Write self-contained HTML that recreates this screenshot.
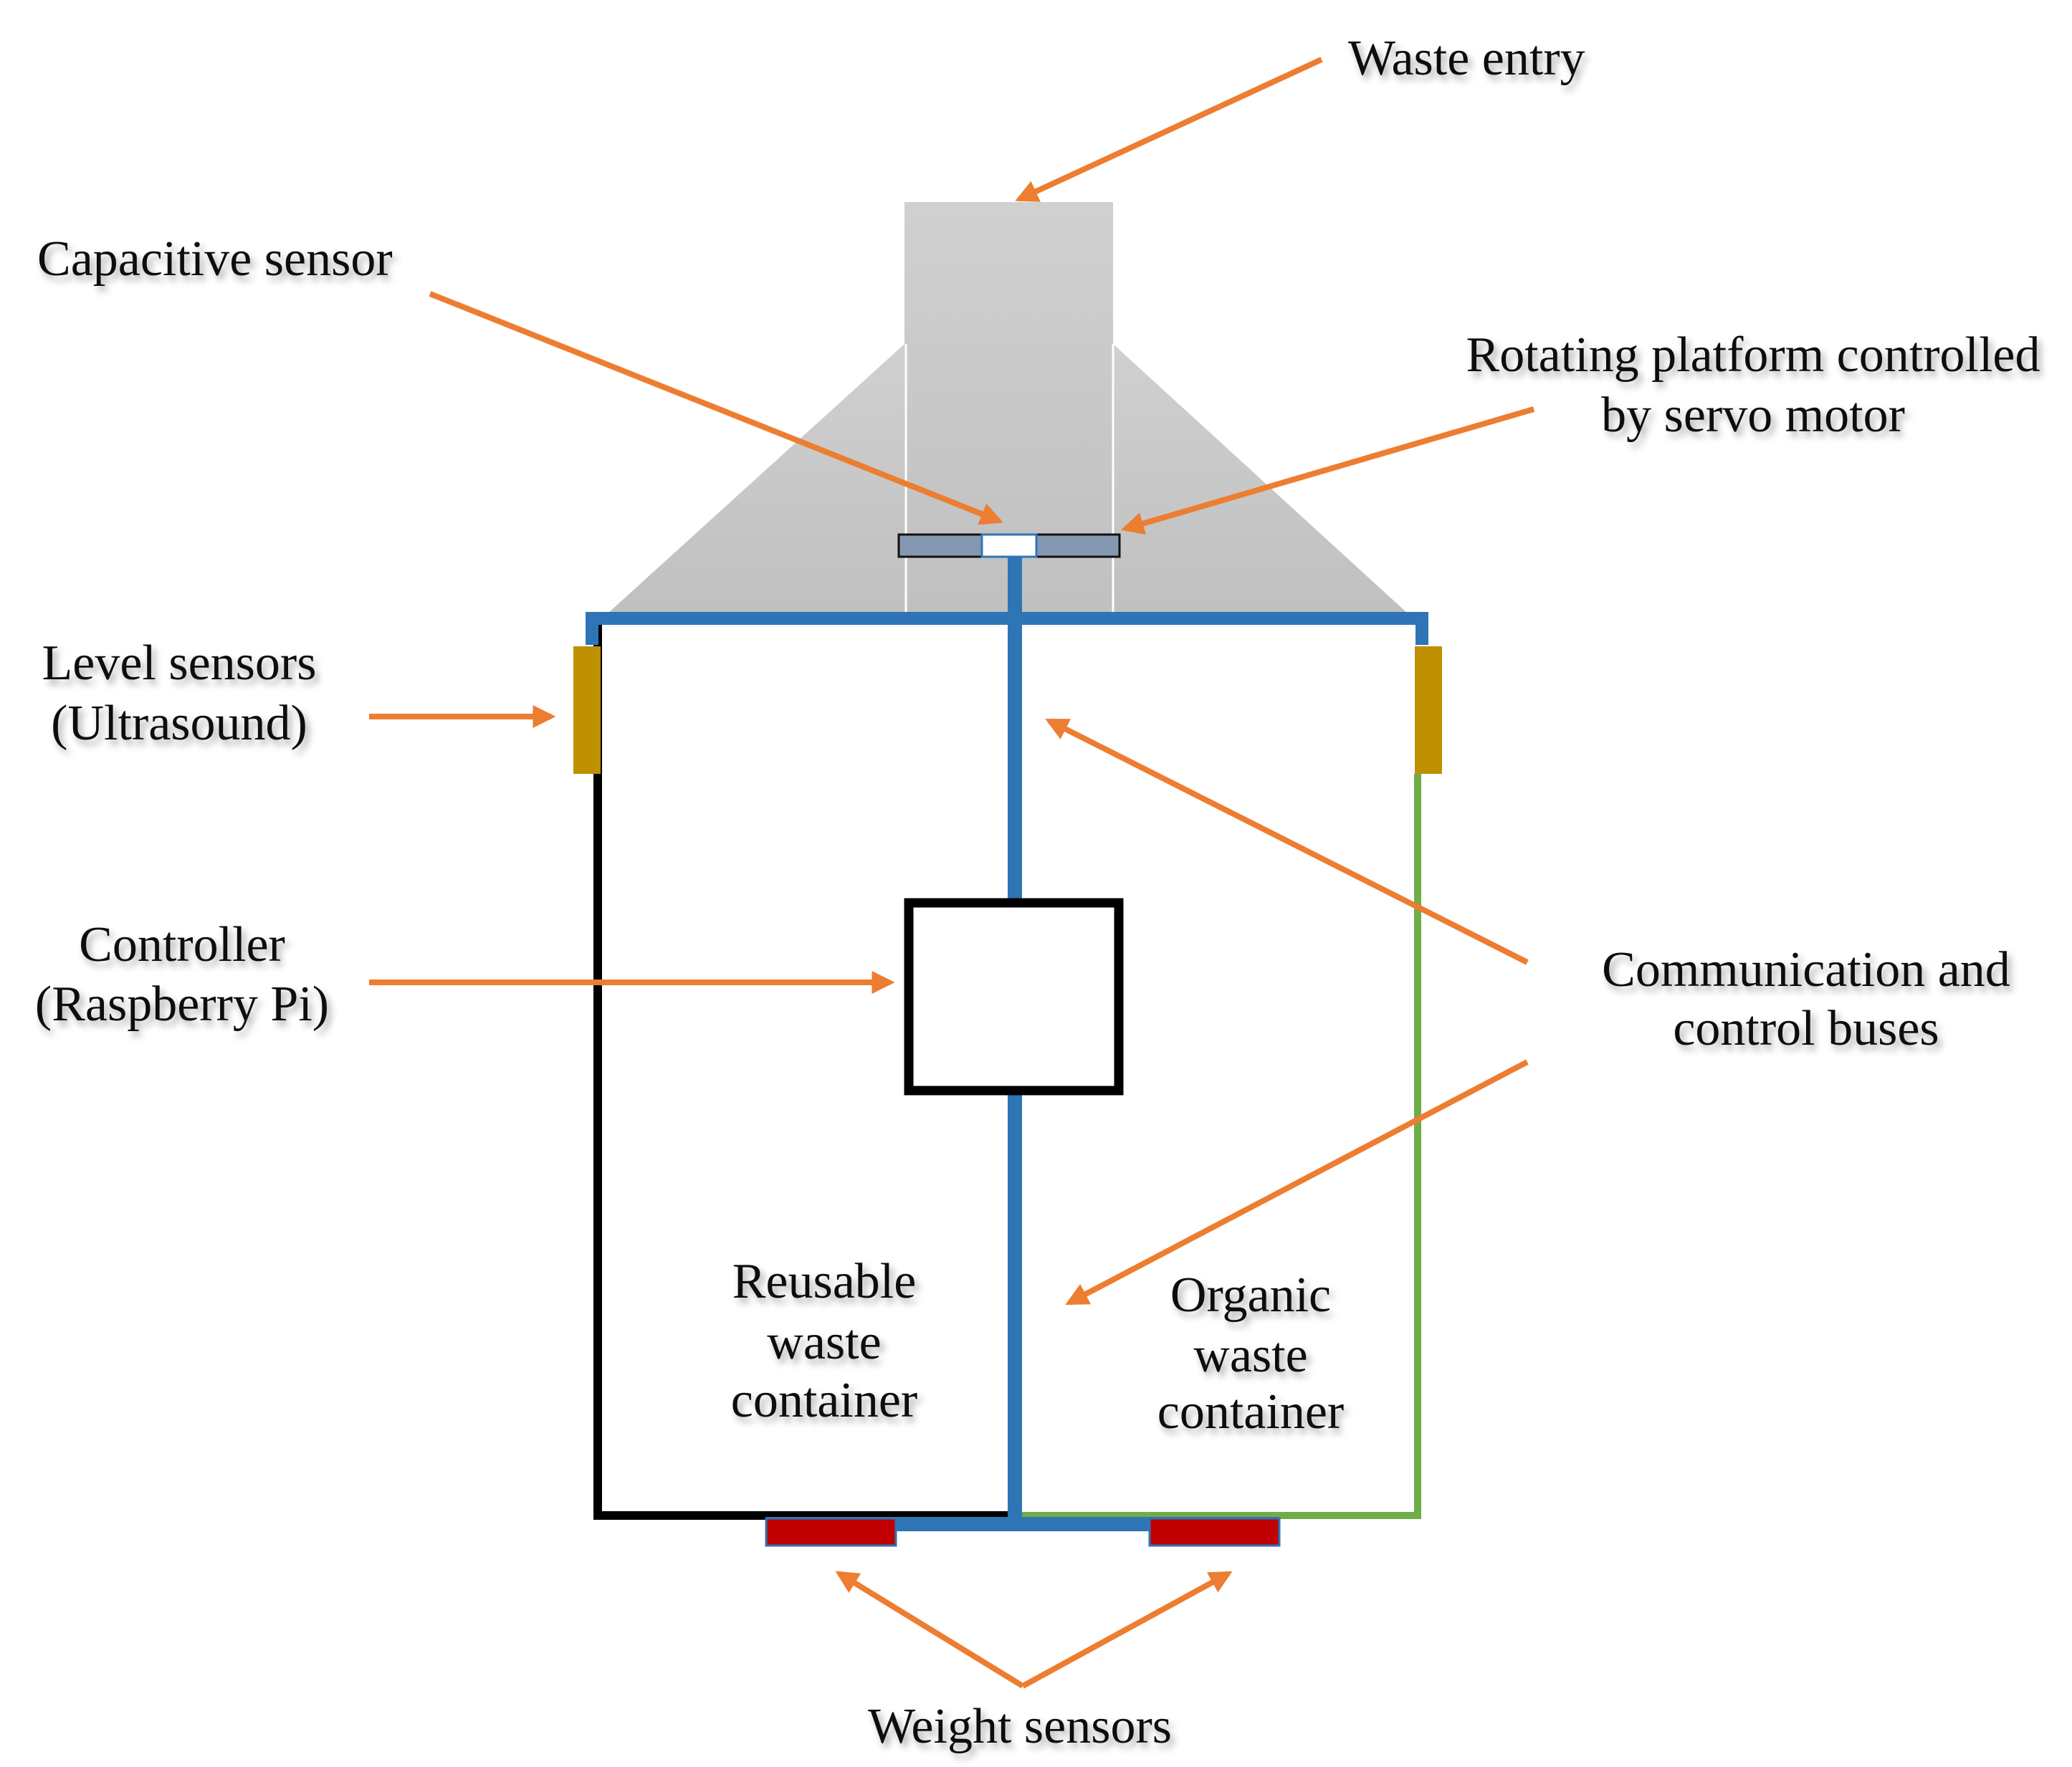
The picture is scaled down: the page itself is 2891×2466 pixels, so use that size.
<!DOCTYPE html>
<html><head><meta charset="utf-8"><style>
html,body{margin:0;padding:0;background:#fff;}
svg{display:block;}
text{font-family:"Liberation Serif",serif;font-size:70px;fill:#111;}
.t{filter:url(#sh);}
</style></head><body>
<svg width="2891" height="2466" viewBox="0 0 2891 2466" xmlns="http://www.w3.org/2000/svg">
<defs>
<filter id="sh" x="-10%" y="-30%" width="130%" height="180%">
<feDropShadow dx="5" dy="7" stdDeviation="5" flood-color="#000" flood-opacity="0.35"/>
</filter>
<linearGradient id="g" x1="0" y1="0" x2="0" y2="1">
<stop offset="0" stop-color="#d0d0d0"/><stop offset="1" stop-color="#c0c0c0"/>
</linearGradient>
<marker id="ah" viewBox="0 0 10 10" refX="8" refY="5" markerWidth="4" markerHeight="4" orient="auto">
<path d="M0,0 L10,5 L0,10 Z" fill="#ED7D31"/>
</marker>
</defs>

<polygon points="1262,480 1553,480 1964,856 848,856" fill="url(#g)"/>
<rect x="1262" y="282" width="291" height="574" fill="url(#g)"/>
<line x1="1264" y1="480" x2="1264" y2="856" stroke="#fff" stroke-width="3"/>
<line x1="1553" y1="480" x2="1553" y2="856" stroke="#fff" stroke-width="3"/>

<rect x="1254" y="746" width="116" height="31" fill="#8497b0" stroke="#111" stroke-width="3"/>
<rect x="1446" y="746" width="116" height="31" fill="#8497b0" stroke="#111" stroke-width="3"/>
<rect x="1370" y="746" width="76" height="31" fill="#fff" stroke="#2e75b6" stroke-width="3"/>

<polyline points="834,870 834,2115 1416,2115" fill="none" stroke="#000" stroke-width="12"/>
<polyline points="1978,1080 1978,2115 1416,2115" fill="none" stroke="#70ad47" stroke-width="10"/>
<rect x="1069" y="2117" width="716" height="20" fill="#2e75b6"/>
<polyline points="826,900 826,863 1984,863 1984,900" fill="none" stroke="#2e75b6" stroke-width="18"/>
<line x1="1416" y1="777" x2="1416" y2="1254" stroke="#2e75b6" stroke-width="20"/>
<line x1="1416" y1="1528" x2="1416" y2="2120" stroke="#2e75b6" stroke-width="20"/>

<rect x="800" y="902" width="38" height="178" fill="#bf9000"/>
<rect x="1974" y="902" width="38" height="178" fill="#bf9000"/>
<rect x="1069" y="2119" width="181" height="38" fill="#c00000" stroke="#2e75b6" stroke-width="3"/>
<rect x="1604" y="2119" width="181" height="38" fill="#c00000" stroke="#2e75b6" stroke-width="3"/>

<rect x="1268" y="1260" width="293" height="262" fill="#fff" stroke="#000" stroke-width="13"/>

<g stroke="#ED7D31" stroke-width="8" fill="none" marker-end="url(#ah)">
<line x1="1844" y1="83" x2="1422" y2="278"/>
<line x1="600" y1="410" x2="1394" y2="727"/>
<line x1="2140" y1="571" x2="1570" y2="738"/>
<line x1="515" y1="1000" x2="769" y2="1000"/>
<line x1="515" y1="1371" x2="1242" y2="1371"/>
<line x1="2131" y1="1343" x2="1464" y2="1006"/>
<line x1="2131" y1="1482" x2="1492" y2="1818"/>
<line x1="1427" y1="2353" x2="1171" y2="2196"/>
<line x1="1427" y1="2353" x2="1714" y2="2196"/>
</g>

<g class="t">
<text x="1881" y="104">Waste entry</text>
<text x="52" y="384">Capacitive sensor</text>
<text x="2446" y="518" text-anchor="middle">Rotating platform controlled</text>
<text x="2446" y="602" text-anchor="middle">by servo motor</text>
<text x="250" y="948" text-anchor="middle">Level sensors</text>
<text x="250" y="1032" text-anchor="middle">(Ultrasound)</text>
<text x="254" y="1341" text-anchor="middle">Controller</text>
<text x="254" y="1424" text-anchor="middle">(Raspberry Pi)</text>
<text x="2520" y="1376" text-anchor="middle">Communication and</text>
<text x="2520" y="1458" text-anchor="middle">control buses</text>
<text x="1150" y="1811" text-anchor="middle">Reusable</text>
<text x="1150" y="1896" text-anchor="middle">waste</text>
<text x="1150" y="1977" text-anchor="middle">container</text>
<text x="1745" y="1830" text-anchor="middle">Organic</text>
<text x="1745" y="1914" text-anchor="middle">waste</text>
<text x="1745" y="1993" text-anchor="middle">container</text>
<text x="1423" y="2432" text-anchor="middle">Weight sensors</text>
</g>
</svg>
</body></html>
